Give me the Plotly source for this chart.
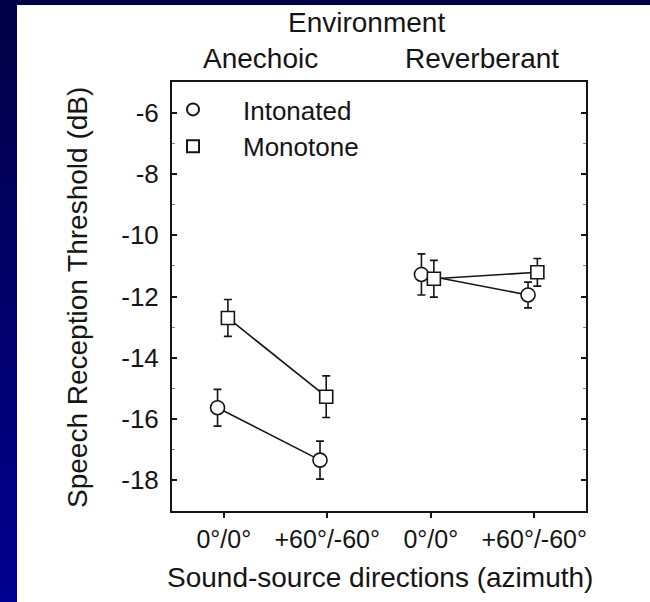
import plotly.graph_objects as go

# ---- data ----
tick_vals = [1, 2, 3, 4]
tick_text = ["0°/0°", "+60°/-60°", "0°/0°", "+60°/-60°"]
y_tick_vals = [-18, -16, -14, -12, -10, -8, -6]
y_tick_text = ["-18", "-16", "-14", "-12", "-10", "-8", "-6"]
environments = ["Anechoic", "Reverberant"]

intonated_x = [0.94, 1.93, 2.91, 3.94]
intonated_y = [-15.63, -17.34, -11.28, -11.95]
intonated_err = [0.60, 0.62, 0.67, 0.42]

monotone_x = [1.04, 1.99, 3.03, 4.03]
monotone_y = [-12.70, -15.27, -11.42, -11.21]
monotone_err = [0.60, 0.68, 0.60, 0.45]

# ---- layout geometry ----
W, H = 650, 602
L, R, T, B = 172, 64, 82, 91
PW, PH = W - L - R, H - T - B
FONT = "Liberation Sans, Arial, sans-serif"
INK = "#151515"


def px(x):
    return (x - L) / PW


def py(y):
    return (H - B - y) / PH


def split(vals):
    return vals[:2] + [None] + vals[2:]


fig = go.Figure()

# connecting lines (within each environment)
for xs, ys in [(intonated_x, intonated_y), (monotone_x, monotone_y)]:
    fig.add_trace(go.Scatter(x=split(xs), y=split(ys), mode="lines",
                             line=dict(color=INK, width=1.6),
                             showlegend=False, hoverinfo="skip"))

fig.add_trace(go.Scatter(
    x=intonated_x, y=intonated_y, mode="markers", name="Intonated",
    marker=dict(symbol="circle", size=14, color="white",
                line=dict(color=INK, width=1.6)),
    error_y=dict(type="data", array=intonated_err, color=INK,
                 thickness=1.6, width=4)))
fig.add_trace(go.Scatter(
    x=monotone_x, y=monotone_y, mode="markers", name="Monotone",
    marker=dict(symbol="square", size=13, color="white",
                line=dict(color=INK, width=1.6)),
    error_y=dict(type="data", array=monotone_err, color=INK,
                 thickness=1.6, width=4)))

# background: navy frame with a white panel
shapes = []
n = 30
for i in range(n):
    t = i / (n - 1)
    b = int(70 + t * (145 - 70))
    y0 = i * H / n
    y1 = (i + 1) * H / n + 1
    shapes.append(dict(type="rect", xref="paper", yref="paper", layer="below",
                       x0=px(0), x1=px(17), y0=py(y1), y1=py(y0),
                       line=dict(width=0), fillcolor=f"rgb(0,0,{b})"))
shapes.append(dict(type="rect", xref="paper", yref="paper", layer="below",
                   x0=px(0), x1=px(W + 20), y0=py(5), y1=py(-5),
                   line=dict(width=0), fillcolor="rgb(0,0,72)"))
shapes.append(dict(type="rect", xref="paper", yref="paper", layer="below",
                   x0=px(17), x1=px(W + 20), y0=py(H + 20), y1=py(5),
                   line=dict(width=0), fillcolor="white"))

ann_font = dict(family=FONT, size=28, color=INK)
annotations = [
    dict(text="Environment", x=px(366), y=py(22)),
    dict(text=environments[0], x=px(260), y=py(59)),
    dict(text=environments[1], x=px(482), y=py(59)),
    dict(text="Sound-source directions (azimuth)", x=px(380), y=py(577)),
    dict(text="Speech Reception Threshold (dB)", x=px(77), y=py(298),
         textangle=-90),
]
for a in annotations:
    a.update(xref="paper", yref="paper", showarrow=False, xanchor="center",
             yanchor="middle", font=ann_font)

fig.update_layout(
    width=W, height=H,
    margin=dict(l=L, r=R, t=T, b=B, pad=0),
    paper_bgcolor="rgb(0,0,100)",
    plot_bgcolor="white",
    font=dict(family=FONT, size=24, color=INK),
    shapes=shapes,
    annotations=annotations,
    showlegend=True,
    legend=dict(x=px(143), y=py(86), xanchor="left", yanchor="top",
                bgcolor="rgba(0,0,0,0)", borderwidth=0,
                itemsizing="constant", itemwidth=90,
                font=dict(family=FONT, size=26, color=INK),
                tracegroupgap=0),
)

fig.update_xaxes(
    range=[0.5, 4.5], tickvals=tick_vals, ticktext=tick_text,
    ticks="outside", ticklen=5, tickwidth=1.6, tickcolor=INK,
    showline=True, linecolor=INK, linewidth=2, mirror=True,
    showgrid=False, zeroline=False, ticklabelstandoff=0,
    tickfont=dict(family=FONT, size=25, color=INK),
)
fig.update_yaxes(
    range=[-19, -5], tickvals=y_tick_vals, ticktext=y_tick_text,
    ticks="inside", ticklen=5, tickwidth=1.6, tickcolor=INK,
    minor=dict(tickvals=[-17, -15, -13, -11, -9, -7], ticks="inside",
               ticklen=3, tickcolor="#888888", tickwidth=1),
    showline=True, linecolor=INK, linewidth=2, mirror="ticks",
    showgrid=False, zeroline=False, ticklabelstandoff=6,
    tickfont=dict(family=FONT, size=26, color=INK),
)

fig.write_html("out.html")
